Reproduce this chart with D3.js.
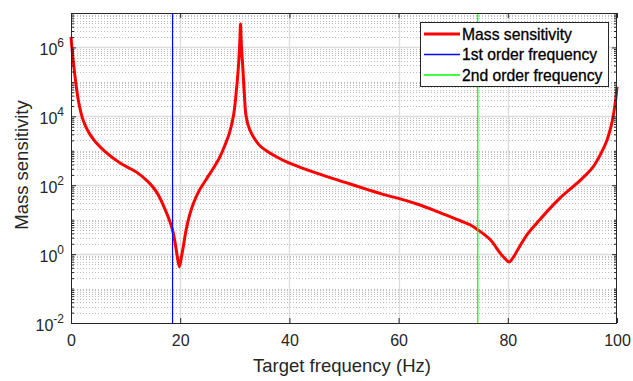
<!DOCTYPE html>
<html>
<head>
<meta charset="utf-8">
<script src="https://cdn.jsdelivr.net/npm/d3@7"></script>
<style>
  html, body { margin: 0; padding: 0; background: #fff; }
  svg { display: block; font-family: "Liberation Sans", Arial, Helvetica, sans-serif; }
</style>
</head>
<body>
<svg id="chart" width="633" height="381"></svg>
<script>
// ---- data ----
const frequency = [0, 0.2, 0.4, 0.7, 1.0, 1.4, 2.0, 2.7, 3.5, 4.5,
  6.3, 9, 12, 14, 15, 16, 17, 17.8, 18.6, 19.1,
  19.5, 19.85, 20.2, 20.6, 21.1, 21.7, 22.5, 23.5, 24.6, 25.2,
  26.3, 27.3, 28.3, 29.0, 29.74, 30.2, 30.66, 30.9, 31.05, 31.2,
  31.46, 31.75, 32.07, 32.7, 33.5, 34.6, 36, 37.7, 40, 42,
  45, 48, 51, 54.2, 57, 60.3, 63.5, 66.4, 70, 71.3,
  73.1, 74.5, 76.8, 78.6, 79.6, 80.26, 80.9, 82.2, 83.7, 85.3,
  87.8, 89.6, 92.7, 94.3, 95.7, 97, 98.2, 98.9, 99.4, 99.8, 100];
const massSensitivity = [2.04e6, 8.9e5, 4.2e5, 1.6e5, 6.6e4, 2.6e4, 1.0e4, 5.0e3, 2.95e3, 1.8e3,
  930, 440, 240, 132, 89, 52, 24, 12, 5.0, 2.0,
  0.79, 0.43, 0.79, 1.78, 5.2, 13.2, 32, 71, 135, 190,
  355, 680, 1.6e3, 3.2e3, 1.0e4, 4.0e4, 2.75e5, 1.26e6, 4.8e6, 1.26e6,
  2.75e5, 4.5e4, 1.0e4, 4.2e3, 2.4e3, 1.4e3, 955, 660, 436, 331,
  224, 155, 110, 76, 55, 40, 28, 19, 11.2, 9.3,
  7.1, 5.1, 2.6, 1.07, 0.71, 0.59, 0.76, 1.7, 4.0, 7.9,
  22, 43, 115, 200, 355, 800, 2.1e3, 5.0e3, 1.23e4, 3.5e4, 7.2e4];
const firstOrderFrequency = 18.6;
const secondOrderFrequency = 74.5;
const xTicks = [0, 20, 40, 60, 80, 100];
const yTickExponents = [-2, 0, 2, 4, 6];
const legendLabels = ["Mass sensitivity", "1st order frequency", "2nd order frequency"];
const xLabel = "Target frequency (Hz)";
const yLabel = "Mass sensitivity";

// ---- layout ----
const svg = d3.select("#chart");
const pL = 71, pR = 617, pT = 13, pB = 323;
const x = d3.scaleLinear().domain([0, 100]).range([pL, pR]);
const y = d3.scaleLog().domain([1e-2, 1e7]).range([pB, pT]);
const axisColor = "#262626";

// grid
const majorVals = yTickExponents.map(e => Math.pow(10, e));
const minorVals = [];
for (let e = -2; e <= 6; e++) {
  for (let k = 1; k <= 9; k++) {
    if (k === 1 && yTickExponents.includes(e)) continue;
    minorVals.push(k * Math.pow(10, e));
  }
}
const grid = svg.append("g");
grid.selectAll("line.minor").data(minorVals).enter().append("line")
  .attr("x1", pL).attr("x2", pR)
  .attr("y1", d => Math.round(y(d)) + 0.5).attr("y2", d => Math.round(y(d)) + 0.5)
  .attr("stroke", "#bdbdbd").attr("stroke-width", 1).attr("stroke-dasharray", "1,2");
grid.selectAll("line.major").data(majorVals.filter(v => v > 1e-2)).enter().append("line")
  .attr("x1", pL).attr("x2", pR)
  .attr("y1", d => Math.round(y(d)) + 0.5).attr("y2", d => Math.round(y(d)) + 0.5)
  .attr("stroke", "#dcdcdc").attr("stroke-width", 1.3);
grid.selectAll("line.vx").data(xTicks.filter(v => v > 0 && v < 100)).enter().append("line")
  .attr("y1", pT).attr("y2", pB)
  .attr("x1", d => Math.round(x(d)) + 0.5).attr("x2", d => Math.round(x(d)) + 0.5)
  .attr("stroke", "#dcdcdc").attr("stroke-width", 1.3);

// curve
const pts = frequency.map((f, i) => [f, massSensitivity[i]]);
const line = d3.line().x(d => x(d[0])).y(d => y(d[1])).curve(d3.curveCatmullRom.alpha(0.5));
svg.append("path").datum(pts).attr("d", line)
  .attr("fill", "none").attr("stroke", "#ff0000").attr("stroke-width", 3)
  .attr("stroke-linejoin", "round");

// vertical frequency lines
svg.append("line").attr("x1", x(firstOrderFrequency)).attr("x2", x(firstOrderFrequency))
  .attr("y1", pT).attr("y2", pB).attr("stroke", "#0000ff").attr("stroke-width", 1.2);
svg.append("line").attr("x1", x(secondOrderFrequency)).attr("x2", x(secondOrderFrequency))
  .attr("y1", pT).attr("y2", pB).attr("stroke", "#00ff00").attr("stroke-width", 1.2);

// axes ticks
const fs = 16;
const gx = svg.append("g").attr("transform", `translate(0,${pB})`)
  .call(d3.axisBottom(x).tickValues(xTicks).tickSize(-5).tickPadding(12).tickFormat(d3.format("d")));
const gxt = svg.append("g").attr("transform", `translate(0,${pT})`)
  .call(d3.axisTop(x).tickValues(xTicks).tickSize(-5).tickFormat(""));
const gyl = svg.append("g").attr("transform", `translate(${pL},0)`)
  .call(d3.axisLeft(y).tickValues(majorVals).tickSize(-5).tickFormat(""));
const gylm = svg.append("g").attr("transform", `translate(${pL},0)`)
  .call(d3.axisLeft(y).tickValues(minorVals).tickSize(-3).tickFormat(""));
const gyr = svg.append("g").attr("transform", `translate(${pR},0)`)
  .call(d3.axisRight(y).tickValues(majorVals).tickSize(-5).tickFormat(""));
const gyrm = svg.append("g").attr("transform", `translate(${pR},0)`)
  .call(d3.axisRight(y).tickValues(minorVals).tickSize(-3).tickFormat(""));
[gx, gxt, gyl, gylm, gyr, gyrm].forEach(g => {
  g.select(".domain").remove();
  g.selectAll("line").attr("stroke", axisColor);
  g.selectAll("text").attr("fill", axisColor).attr("font-size", fs)
    .attr("font-family", "'Liberation Sans', Arial, sans-serif");
});

// y tick labels with superscripts
const ylab = svg.append("g");
yTickExponents.forEach(e => {
  const t = ylab.append("text")
    .attr("x", pL - 7).attr("y", y(Math.pow(10, e)) + 8)
    .attr("text-anchor", "end").attr("fill", axisColor).attr("font-size", fs);
  t.append("tspan").text("10");
  t.append("tspan").attr("dy", -8).attr("font-size", 12).text(String(e));
});

// frame
svg.append("rect").attr("x", pL + 0.5).attr("y", pT + 0.5)
  .attr("width", pR - pL - 1).attr("height", pB - pT)
  .attr("fill", "none").attr("stroke", axisColor).attr("stroke-width", 1);

// axis labels
svg.append("text").attr("x", (pL + pR) / 2 - 2).attr("y", 372)
  .attr("text-anchor", "middle").attr("fill", axisColor).attr("font-size", 18.5)
  .text(xLabel);
svg.append("text").attr("transform", `translate(28,${(pT + pB) / 2 - 3}) rotate(-90)`)
  .attr("text-anchor", "middle").attr("fill", axisColor).attr("font-size", 18.5)
  .text(yLabel);

// legend
const legendColors = ["#ff0000", "#0000ff", "#00ff00"];
const legendWidths = [3, 1.5, 1.5];
const lg = svg.append("g");
lg.append("rect").attr("x", 420.5).attr("y", 22.5).attr("width", 188).attr("height", 64)
  .attr("fill", "#fff").attr("stroke", axisColor).attr("stroke-width", 1);
legendLabels.forEach((lab, i) => {
  const cy = 34 + i * 20.5;
  lg.append("line").attr("x1", 424).attr("x2", 460).attr("y1", cy).attr("y2", cy)
    .attr("stroke", legendColors[i]).attr("stroke-width", legendWidths[i]);
  lg.append("text").attr("x", 462).attr("y", cy + 5.5)
    .attr("fill", "#000").attr("stroke", "#000").attr("stroke-width", 0.3)
    .attr("font-size", 15.7).text(lab);
});
</script>
</body>
</html>
